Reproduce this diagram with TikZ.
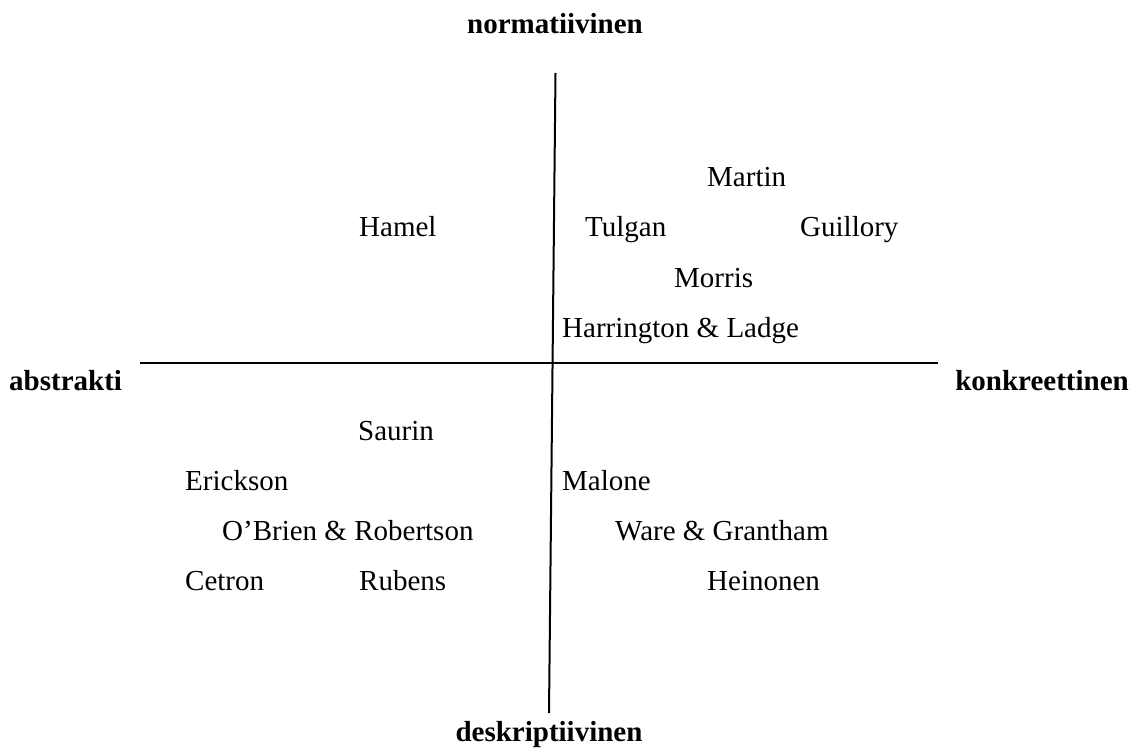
\documentclass[tikz,border=0pt]{standalone}
\usepackage{fontspec}
\setmainfont{Liberation Serif}
\begin{document}
\begin{tikzpicture}[x=1pt,y=-1pt,
  nm/.style={anchor=base west,inner sep=0pt,font=\fontsize{29}{34}\selectfont},
  ax/.style={anchor=base,inner sep=0pt,font=\fontsize{29}{34}\selectfont\bfseries},
  axis/.style={line width=2pt}]
\useasboundingbox (0,0) rectangle (1133,749);
\coordinate (vt) at (555.5,73);
\coordinate (vb) at (549,713);
\coordinate (hl) at (140,363);
\coordinate (hr) at (938,363);
\draw[axis] (vt) -- (vb);
\draw[axis] (hl) -- (hr);
\node[ax] (norm) at (555,34) {normatiivinen};
\node[ax] (desk) at (549,741) {deskriptiivinen};
\node[ax,anchor=base west] (abs) at (9,390) {abstrakti};
\node[ax,anchor=base east] (konk) at (1129,390) {konkreettinen};
\node[nm] (martin) at (707,186) {Martin};
\node[nm] (hamel) at (359,236) {Hamel};
\node[nm] (tulgan) at (585,236) {Tulgan};
\node[nm] (guillory) at (800,236) {Guillory};
\node[nm] (morris) at (674,287) {Morris};
\node[nm] (harr) at (562,337) {Harrington \& Ladge};
\node[nm] (saurin) at (358,440) {Saurin};
\node[nm] (erick) at (185,490) {Erickson};
\node[nm] (malone) at (562,490) {Malone};
\node[nm] (obrien) at (222,540) {O’Brien \& Robertson};
\node[nm] (ware) at (615,540) {Ware \& Grantham};
\node[nm] (cetron) at (185,590) {Cetron};
\node[nm] (rubens) at (359,590) {Rubens};
\node[nm] (hein) at (707,590) {Heinonen};
\end{tikzpicture}
\end{document}
